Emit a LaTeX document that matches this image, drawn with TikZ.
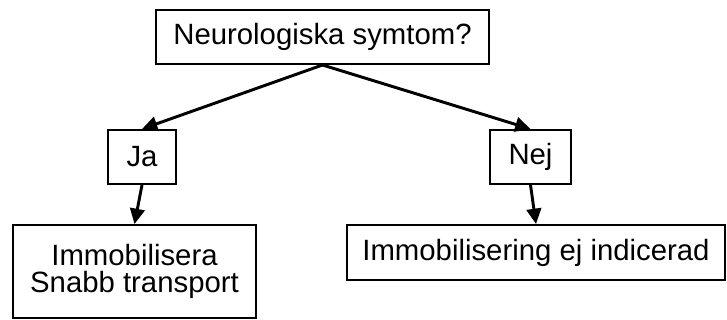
\documentclass[tikz,border=0pt]{standalone}
\usepackage{fontspec}
\setmainfont{Liberation Sans}
\usetikzlibrary{arrows.meta,positioning}
\tikzset{
    %Define standard arrow tip
    >={Triangle[length=11.5pt,width=11pt]},
    %Define style for boxes
    ruta/.style={
           rectangle,
           draw=black, line width=1.5pt,
           inner sep=0pt,
           minimum height=40.5pt,
           font=\fontsize{22}{20.5}\selectfont,
           align=center},
    % Define arrow style
    pil/.style={
           ->,
           line width=2.2pt}
}

\begin{document}
\begin{tikzpicture}[x=0.75pt,y=-0.75pt]
\useasboundingbox (0,0) rectangle (727,320);
\node[ruta, minimum width=249.75pt](fraga) at (322.5,37){Neurologiska symtom?};
\node[ruta, minimum width=51pt](ja) at (142,157){Ja};
\node[ruta, minimum width=60.75pt](nej) at (530.5,157){Nej};
\node[ruta, minimum width=182.25pt, minimum height=69.75pt](immob) at (134.5,271.5){Immobilisera\\Snabb transport};
\node[ruta, minimum width=283.5pt, minimum height=41.25pt](ejimmob) at (536,252.5){Immobilisering ej indicerad};
 \path[pil]
    (fraga.south) edge (ja.north)
    (fraga.south) edge (nej.north)
    (ja.south) edge (immob.north)
    (nej.south) edge (ejimmob.north);
\end{tikzpicture}
\end{document}
